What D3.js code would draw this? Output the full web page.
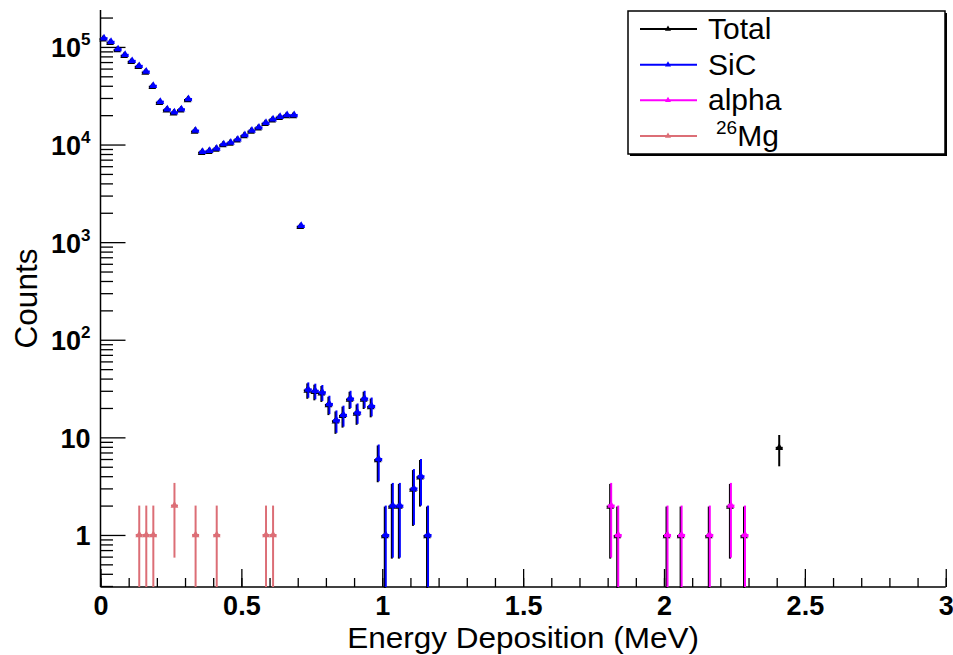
<!DOCTYPE html>
<html>
<head>
<meta charset="utf-8">
<script src="https://cdn.jsdelivr.net/npm/d3@7/dist/d3.min.js"></script>
<style>
  body { margin: 0; background: #fff; }
  svg { display: block; }
</style>
</head>
<body>
<svg id="chart" width="953" height="655"></svg>
<script>
// Histogram bin width (MeV)
const binWidth = 0.025;

// SiC recoil spectrum: bin centres (MeV) and counts
const sicEnergy = [
  0.0125, 0.0375, 0.0625, 0.0875, 0.1125, 0.1375, 0.1625, 0.1875, 0.2125, 0.2375,
  0.2625, 0.2875, 0.3125, 0.3375, 0.3625, 0.3875, 0.4125, 0.4375, 0.4625, 0.4875,
  0.5125, 0.5375, 0.5625, 0.5875, 0.6125, 0.6375, 0.6625, 0.6875, 0.7125, 0.7375,
  0.7625, 0.7875, 0.8125, 0.8375, 0.8625, 0.8875, 0.9125, 0.9375, 0.9625, 0.9875,
  1.0125, 1.0375, 1.0625, 1.1125, 1.1375, 1.1625
];
const sicCounts = [
  123000, 113000, 95000, 83000, 72000, 64000, 56000, 40000, 27500, 23000,
  21400, 23000, 29300, 13900, 8450, 8650, 9100, 10100, 10500, 11300,
  12500, 13900, 15000, 16700, 18200, 19300, 20100, 20100, 1470, 31,
  30, 29, 22, 15, 17, 25, 18, 25, 21, 6,
  1, 2, 2, 3, 4, 1
];

// alpha particles
const alphaEnergy = [1.8125, 1.8375, 2.0125, 2.0625, 2.1625, 2.2375, 2.2875];
const alphaCounts = [2, 1, 1, 1, 1, 2, 1];

// 26Mg recoils
const mgEnergy = [0.1375, 0.1625, 0.1875, 0.2625, 0.3375, 0.4125, 0.5875, 0.6125];
const mgCounts = [1, 1, 1, 2, 1, 1, 1, 1];

// remaining entries that only enter the total
const otherEnergy = [2.4125];
const otherCounts = [8];

// axis ticks
const xTickValues = [0, 0.5, 1, 1.5, 2, 2.5, 3];
const xTickLabels = ["0", "0.5", "1", "1.5", "2", "2.5", "3"];
const yDecades = [1, 10, 100, 1000, 10000, 100000];

const legendLabels = ["Total", "SiC", "alpha", "Mg"];
const colors = { total: "#000000", sic: "#0000ff", alpha: "#ff00ff", mg: "#dc6e76" };

// total = sum of all contributions per bin
const totalMap = new Map();
function addTo(energies, counts) {
  energies.forEach((e, i) => {
    const key = e.toFixed(4);
    totalMap.set(key, (totalMap.get(key) || 0) + counts[i]);
  });
}
addTo(sicEnergy, sicCounts);
addTo(alphaEnergy, alphaCounts);
addTo(mgEnergy, mgCounts);
addTo(otherEnergy, otherCounts);
const totalData = Array.from(totalMap, ([k, c]) => ({ e: +k, c })).sort((a, b) => a.e - b.e);

const zip = (es, cs) => es.map((e, i) => ({ e, c: cs[i] }));

const svg = d3.select("#chart");
const frameLeft = 100.5, frameRight = 945.75, frameTop = 10, frameBottom = 587;

const x = d3.scaleLinear().domain([0, 3]).range([frameLeft, frameRight]);
const yMin = 0.293, yMax = 2.39e5;
const y = d3.scaleLog().domain([yMin, yMax]).range([frameBottom, frameTop]);

const font = "'Liberation Sans', Arial, Helvetica, sans-serif";

// ---------- axes ----------
const xMinor = d3.range(0, 31).map(i => i / 10);
svg.append("g")
  .attr("transform", `translate(0,${frameBottom})`)
  .call(d3.axisBottom(x).tickValues(xMinor).tickSize(-9).tickSizeOuter(0).tickFormat(""))
  .call(g => g.select(".domain").remove())
  .call(g => g.selectAll("line").attr("stroke", "#000").attr("stroke-width", 1.3));

svg.append("g")
  .attr("transform", `translate(0,${frameBottom})`)
  .call(d3.axisBottom(x).tickValues(xTickValues).tickSize(-18).tickSizeOuter(0)
    .tickFormat((d, i) => xTickLabels[i]))
  .call(g => g.select(".domain").remove())
  .call(g => g.selectAll("line").attr("stroke", "#000").attr("stroke-width", 1.3))
  .call(g => g.selectAll("text")
    .attr("y", 28).attr("dy", 0)
    .attr("font-family", font).attr("font-weight", "bold")
    .attr("font-size", 27).attr("fill", "#000"));

const yMinor = [];
[0.1, 1, 10, 100, 1000, 10000, 100000].forEach(dec => {
  for (let m = 2; m <= 9; m++) {
    const v = m * dec;
    if (v >= yMin && v <= yMax) yMinor.push(v);
  }
});
svg.append("g")
  .attr("transform", `translate(${frameLeft},0)`)
  .call(d3.axisLeft(y).tickValues(yMinor).tickSize(-12.5).tickSizeOuter(0).tickFormat(""))
  .call(g => g.select(".domain").remove())
  .call(g => g.selectAll("line").attr("stroke", "#000").attr("stroke-width", 1.3));

const yMajor = svg.append("g")
  .attr("transform", `translate(${frameLeft},0)`)
  .call(d3.axisLeft(y).tickValues(yDecades).tickSize(-25).tickSizeOuter(0).tickFormat(""))
  .call(g => g.select(".domain").remove())
  .call(g => g.selectAll("line").attr("stroke", "#000").attr("stroke-width", 1.3));

// decade labels with superscript exponents
yMajor.selectAll(".tick").each(function (d) {
  const exp = Math.round(Math.log10(d));
  const t = d3.select(this).append("text")
    .attr("x", -10).attr("y", 10)
    .attr("text-anchor", "end")
    .attr("font-family", font).attr("font-weight", "bold")
    .attr("font-size", 27).attr("fill", "#000");
  if (exp <= 1) {
    t.text(String(d));
  } else {
    t.append("tspan").text("10");
    t.append("tspan").attr("font-size", 17).attr("dy", -12).text(String(exp));
  }
});

// axis lines
svg.append("line").attr("x1", frameLeft).attr("x2", frameRight).attr("y1", frameBottom).attr("y2", frameBottom)
  .attr("stroke", "#000").attr("stroke-width", 1.5);
svg.append("line").attr("x1", frameLeft).attr("x2", frameLeft).attr("y1", frameTop).attr("y2", frameBottom)
  .attr("stroke", "#000").attr("stroke-width", 1.5);

// axis titles
svg.append("text")
  .attr("x", (frameLeft + frameRight) / 2).attr("y", 648)
  .attr("text-anchor", "middle")
  .attr("font-family", font).attr("font-size", 30).attr("fill", "#000")
  .attr("textLength", 352).attr("lengthAdjust", "spacingAndGlyphs")
  .text("Energy Deposition (MeV)");
svg.append("text")
  .attr("transform", `translate(37,${(frameTop + frameBottom) / 2}) rotate(-90)`)
  .attr("text-anchor", "middle")
  .attr("font-family", font).attr("font-size", 31.5).attr("fill", "#000")
  .text("Counts");

// ---------- data ----------
const tri = d3.symbol(d3.symbolTriangle).size(26);
const plot = svg.append("g");

function drawSeries(data, color, dx, dy) {
  const g = plot.append("g").attr("transform", `translate(${dx},${dy})`);
  data.forEach(p => {
    const err = Math.sqrt(p.c);
    const lo = Math.max(p.c - err, yMin);
    const hi = Math.min(p.c + err, yMax);
    g.append("line")
      .attr("x1", x(p.e)).attr("x2", x(p.e))
      .attr("y1", y(lo)).attr("y2", y(hi))
      .attr("stroke", color).attr("stroke-width", 2);
    g.append("line")
      .attr("x1", x(p.e - binWidth / 2)).attr("x2", x(p.e + binWidth / 2))
      .attr("y1", y(p.c)).attr("y2", y(p.c))
      .attr("stroke", color).attr("stroke-width", 2);
    g.append("path")
      .attr("d", tri())
      .attr("transform", `translate(${x(p.e)},${y(p.c)})`)
      .attr("fill", color);
  });
}

drawSeries(totalData, colors.total, -1, 1);
drawSeries(zip(sicEnergy, sicCounts), colors.sic, 0, 0);
drawSeries(zip(mgEnergy, mgCounts), colors.mg, 0, 0);
drawSeries(zip(alphaEnergy, alphaCounts), colors.alpha, 0, 0);

// ---------- legend ----------
const lg = svg.append("g");
const lx = 628, ly = 11, lw = 317, lh = 143;
lg.append("rect").attr("x", lx + 2).attr("y", ly + 2).attr("width", lw).attr("height", lh)
  .attr("fill", "#000");
lg.append("rect").attr("x", lx).attr("y", ly).attr("width", lw).attr("height", lh)
  .attr("fill", "#fff").attr("stroke", "#000").attr("stroke-width", 1.5);

const legendColors = [colors.total, colors.sic, colors.alpha, colors.mg];
const rowY = d3.scalePoint().domain(legendLabels).range([29, 136]);
legendLabels.forEach((lab, i) => {
  const cy = rowY(lab);
  lg.append("line").attr("x1", 640).attr("x2", 697).attr("y1", cy).attr("y2", cy)
    .attr("stroke", legendColors[i]).attr("stroke-width", 2);
  lg.append("path").attr("d", d3.symbol(d3.symbolTriangle).size(16)())
    .attr("transform", `translate(668,${cy})`).attr("fill", legendColors[i]);
  const t = lg.append("text").attr("x", 708).attr("y", cy + 10)
    .attr("font-family", font).attr("font-size", 30).attr("fill", "#000");
  if (lab === "Mg") {
    t.append("tspan").attr("x", 716).attr("font-size", 19).attr("dy", -12).text("26");
    t.append("tspan").attr("dy", 12).text("Mg");
  } else {
    t.text(lab);
  }
});
</script>
</body>
</html>
